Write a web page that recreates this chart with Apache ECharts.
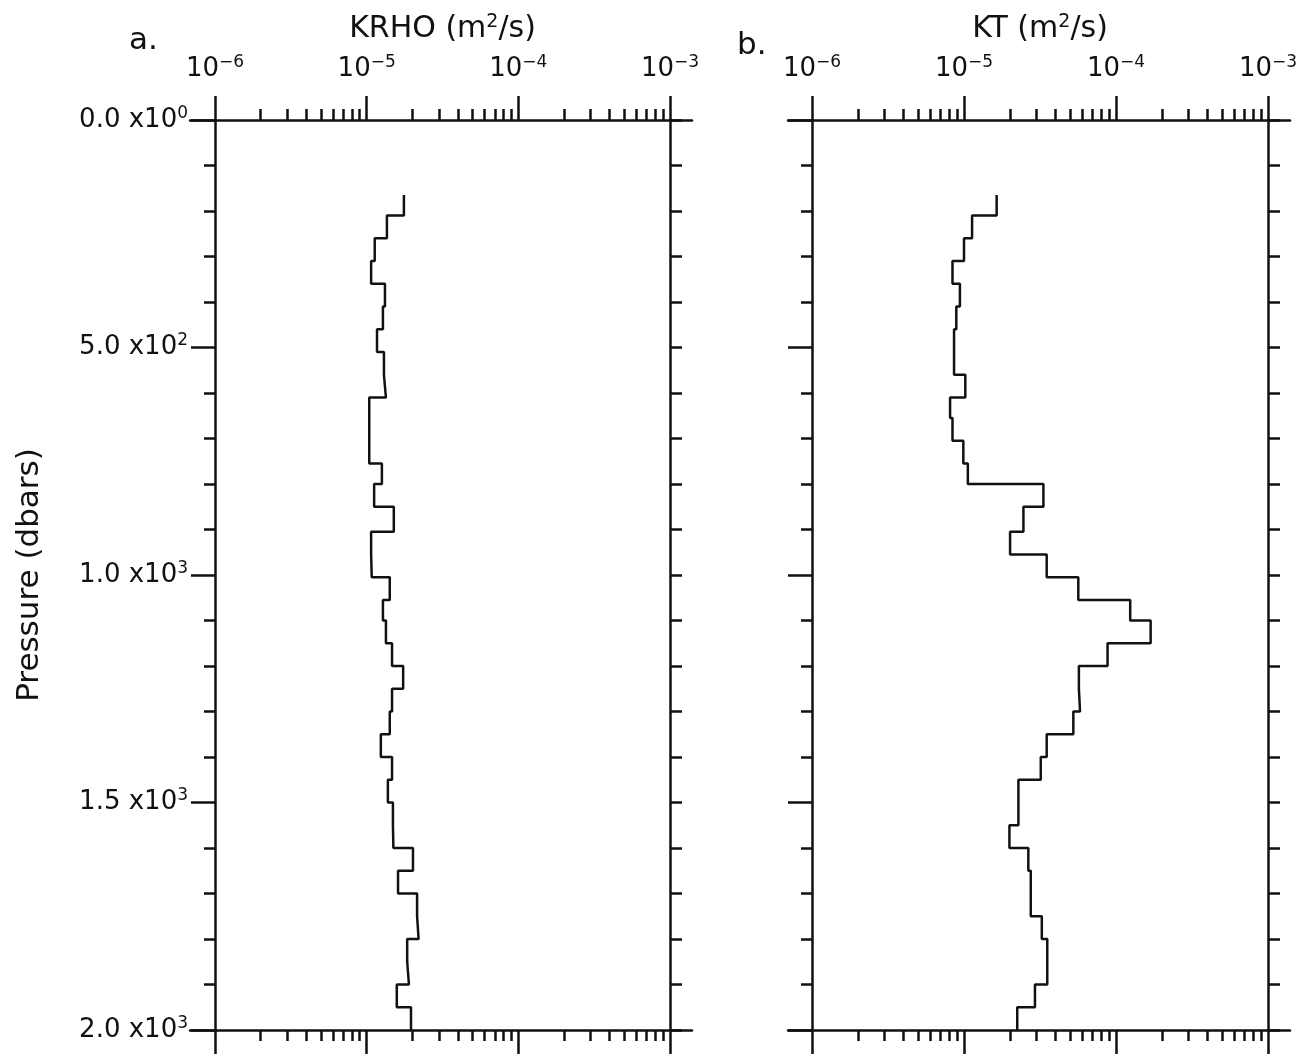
<!DOCTYPE html>
<html>
<head>
<meta charset="utf-8">
<script src="https://cdn.jsdelivr.net/npm/echarts@6/dist/echarts.min.js"></script>
<style>
  html, body { margin: 0; padding: 0; background: #fff; }
  #chart { width: 1305px; height: 1056px; }
</style>
</head>
<body>
<div id="chart"></div>
<script>
// bin edges in pressure (dbar), 37 bins
var pEdges = [165, 210, 260, 310, 360, 410, 460, 510, 560, 610, 655, 705, 755, 800, 850, 905, 955,
    1005, 1055, 1100, 1150, 1200, 1250, 1300, 1350, 1400, 1450, 1500, 1550, 1600, 1650, 1700,
    1750, 1800, 1850, 1900, 1950, 2000];

// a. KRHO (m2/s)
var krho = [1.76e-5, 1.36e-5, 1.13e-5, 1.07e-5, 1.32e-5, 1.28e-5, 1.17e-5, 1.30e-5, 1.34e-5,
    1.04e-5, 1.04e-5, 1.04e-5, 1.26e-5, 1.12e-5, 1.51e-5, 1.07e-5, 1.08e-5, 1.42e-5, 1.28e-5,
    1.34e-5, 1.47e-5, 1.74e-5, 1.47e-5, 1.42e-5, 1.24e-5, 1.47e-5, 1.38e-5, 1.49e-5, 1.50e-5,
    2.02e-5, 1.61e-5, 2.15e-5, 2.20e-5, 1.85e-5, 1.90e-5, 1.58e-5, 1.96e-5];

// b. KT (m2/s)
var kt = [1.64e-5, 1.13e-5, 1.00e-5, 8.4e-6, 9.4e-6, 8.9e-6, 8.6e-6, 8.6e-6, 1.02e-5,
    8.1e-6, 8.4e-6, 9.9e-6, 1.06e-5, 3.33e-5, 2.46e-5, 2.01e-5, 3.50e-5, 5.65e-5, 1.24e-4,
    1.69e-4, 8.8e-5, 5.7e-5, 5.8e-5, 5.24e-5, 3.50e-5, 3.20e-5, 2.28e-5, 2.28e-5, 1.99e-5,
    2.65e-5, 2.75e-5, 2.75e-5, 3.25e-5, 3.53e-5, 3.53e-5, 2.93e-5, 2.24e-5];

var xDecades = [1e-6, 1e-5, 1e-4, 1e-3];
var xDecadeExp = ['\u22126', '\u22125', '\u22124', '\u22123'];
var yTickLabels = {0: ['0.0', '0'], 500: ['5.0', '2'], 1000: ['1.0', '3'], 1500: ['1.5', '3'], 2000: ['2.0', '3']};

var INK = '#111';
var FONT = 'DejaVu Sans';

function minorValues() {
    var out = [];
    for (var d = 0; d < 3; d++) {
        for (var m = 2; m <= 9; m++) {
            out.push(m * xDecades[d]);
        }
    }
    return out;
}

function stepData(vals) {
    var pts = [];
    vals.forEach(function(v, i) {
        pts.push([v, pEdges[i]]);
        pts.push([v, pEdges[i + 1]]);
    });
    return pts;
}

var supRich = {
    b: { fontFamily: FONT, fontSize: 26, color: INK },
    s: { fontFamily: FONT, fontSize: 17, color: INK, padding: [0, 0, 13, 0] }
};

function logAxes(gridIndex, titleRich) {
    var base = { type: 'log', logBase: 10, min: 1e-6, max: 1e-3, gridIndex: gridIndex,
        splitLine: { show: false }, axisLine: { show: false, onZero: false } };
    var tickStyle = { color: INK, width: 2.5 };
    return [
        Object.assign({}, base, {
            position: 'top',
            name: titleRich, nameLocation: 'middle', nameGap: 74,
            nameTextStyle: { rich: {
                t: { fontFamily: FONT, fontSize: 30, color: INK },
                s: { fontFamily: FONT, fontSize: 19, color: INK, padding: [0, 0, 14, 0] }
            } },
            axisTick: { show: true, length: 24, customValues: xDecades, lineStyle: tickStyle },
            axisLabel: { show: true, margin: 36, customValues: xDecades,
                formatter: function(v) {
                    var i = Math.round(Math.log10(v)) + 6;
                    return '{b|10}{s|' + xDecadeExp[i] + '}';
                }, rich: supRich }
        }),
        Object.assign({}, base, {
            position: 'top',
            axisTick: { show: true, length: 11, customValues: minorValues(), lineStyle: tickStyle },
            axisLabel: { show: false }
        }),
        Object.assign({}, base, {
            position: 'bottom',
            axisTick: { show: true, length: 24, customValues: xDecades, lineStyle: tickStyle },
            axisLabel: { show: false }
        }),
        Object.assign({}, base, {
            position: 'bottom',
            axisTick: { show: true, length: 11, customValues: minorValues(), lineStyle: tickStyle },
            axisLabel: { show: false }
        })
    ];
}

// the horizontal frame lines run a little past the panel on both sides
function frameAxes(gridIndex) {
    var base = { type: 'value', min: 0, max: 1, gridIndex: gridIndex,
        splitLine: { show: false }, axisTick: { show: false }, axisLabel: { show: false },
        axisLine: { show: true, onZero: false, lineStyle: { color: INK, width: 2.5 } } };
    return [
        Object.assign({}, base, { position: 'top' }),
        Object.assign({}, base, { position: 'bottom' })
    ];
}

function pressureAxis(gridIndex, side, showLabels, majorLen, minorLen) {
    var ax = {
        type: 'value', inverse: true, min: 0, max: 2000, interval: 500,
        gridIndex: gridIndex, position: side,
        splitLine: { show: false },
        axisLine: { show: true, onZero: false, lineStyle: { color: INK, width: 2.5 } },
        axisTick: { show: true, length: majorLen, lineStyle: { color: INK, width: 2.5 } },
        minorTick: { show: true, splitNumber: 5, length: minorLen, lineStyle: { color: INK, width: 2.5 } },
        axisLabel: { show: showLabels, margin: 27,
            formatter: function(v) {
                var t = yTickLabels[v];
                return '{b|' + t[0] + ' x10}{s|' + t[1] + '}';
            }, rich: supRich }
    };
    return ax;
}

var xAxes = [].concat(
    logAxes(0, '{t|KRHO (m}{s|2}{t|/s)}'),
    frameAxes(1),
    logAxes(2, '{t|KT (m}{s|2}{t|/s)}'),
    frameAxes(3)
);

var yLeftA = pressureAxis(0, 'left', true, 24, 11);
yLeftA.name = 'Pressure (dbars)';
yLeftA.nameLocation = 'middle';
yLeftA.nameRotate = 90;
yLeftA.nameGap = 170;
yLeftA.nameTextStyle = { fontFamily: FONT, fontSize: 31, color: INK };

var yAxes = [
    yLeftA,
    pressureAxis(0, 'right', false, 12, 12),
    { type: 'value', gridIndex: 1, show: false, min: 0, max: 1 },
    pressureAxis(2, 'left', false, 24, 11),
    pressureAxis(2, 'right', false, 12, 12),
    { type: 'value', gridIndex: 3, show: false, min: 0, max: 1 }
];

var myChart = echarts.init(document.getElementById('chart'), null, { renderer: 'canvas' });

var option = {
    backgroundColor: '#fff',
    animation: false,
    title: [
        { text: 'a.', left: 124, top: 20, textStyle: { fontFamily: FONT, fontSize: 31, fontWeight: 'normal', color: INK } },
        { text: 'b.', left: 732, top: 25, textStyle: { fontFamily: FONT, fontSize: 31, fontWeight: 'normal', color: INK } }
    ],
    grid: [
        { left: 215, top: 120, width: 455, height: 910 },
        { left: 190, top: 120, width: 502, height: 910 },
        { left: 812, top: 120, width: 456, height: 910 },
        { left: 788, top: 120, width: 502, height: 910 }
    ],
    xAxis: xAxes,
    yAxis: yAxes,
    series: [
        {
            name: 'KRHO', type: 'line', xAxisIndex: 0, yAxisIndex: 0,
            data: stepData(krho), showSymbol: false,
            lineStyle: { color: INK, width: 2.5 }
        },
        {
            name: 'KT', type: 'line', xAxisIndex: 6, yAxisIndex: 3,
            data: stepData(kt), showSymbol: false,
            lineStyle: { color: INK, width: 2.5 }
        }
    ]
};

myChart.setOption(option);
</script>
</body>
</html>
